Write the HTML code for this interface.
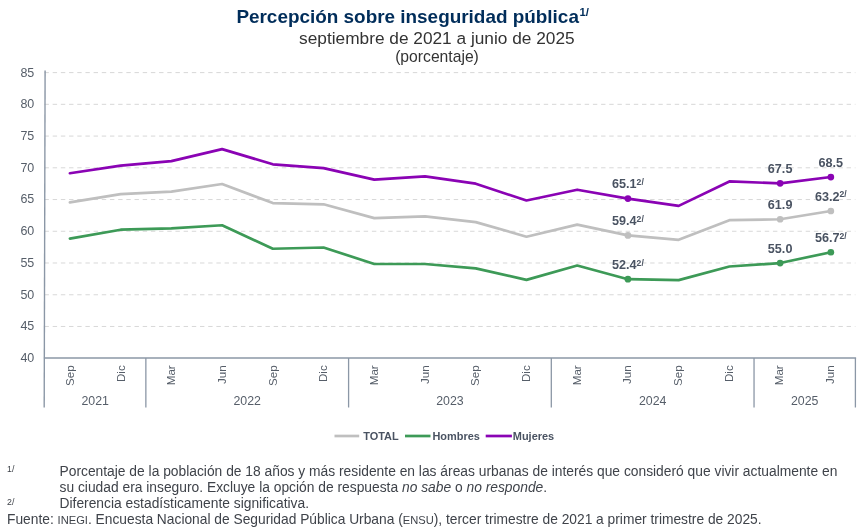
<!DOCTYPE html>
<html lang="es"><head><meta charset="utf-8"><title>Percepción sobre inseguridad pública</title>
<style>html,body{margin:0;padding:0;background:#fff}body{width:860px;height:531px;overflow:hidden;position:relative;font-family:"Liberation Sans", Arial, sans-serif}
svg{position:absolute;left:0;top:0;display:block}text{font-family:"Liberation Sans", Arial, sans-serif}
</style></head><body>
<svg width="860" height="531" viewBox="0 0 860 531">
<rect width="860" height="531" fill="#fff"/>
<text x="236.4" y="22.8" font-size="18.92" font-weight="bold" fill="#002d5a">Percepción sobre inseguridad pública<tspan font-size="11.3" dy="-6.9" dx="0.5">1/</tspan></text>
<text x="436.85" y="43.7" font-size="17.27" fill="#333" text-anchor="middle">septiembre de 2021 a junio de 2025</text>
<text x="437" y="61.6" font-size="15.7" fill="#333" text-anchor="middle">(porcentaje)</text>
<line x1="44.5" y1="72.60" x2="855.4" y2="72.60" stroke="#d6d6d6" stroke-width="0.95" stroke-dasharray="4.4 3.785"/>
<text transform="translate(34.3,76.55) scale(1.055,1)" font-size="11.85" fill="#565e69" text-anchor="end">85</text>
<line x1="44.5" y1="104.33" x2="855.4" y2="104.33" stroke="#d6d6d6" stroke-width="0.95" stroke-dasharray="4.4 3.785"/>
<text transform="translate(34.3,108.28) scale(1.055,1)" font-size="11.85" fill="#565e69" text-anchor="end">80</text>
<line x1="44.5" y1="136.07" x2="855.4" y2="136.07" stroke="#d6d6d6" stroke-width="0.95" stroke-dasharray="4.4 3.785"/>
<text transform="translate(34.3,140.02) scale(1.055,1)" font-size="11.85" fill="#565e69" text-anchor="end">75</text>
<line x1="44.5" y1="167.81" x2="855.4" y2="167.81" stroke="#d6d6d6" stroke-width="0.95" stroke-dasharray="4.4 3.785"/>
<text transform="translate(34.3,171.75) scale(1.055,1)" font-size="11.85" fill="#565e69" text-anchor="end">70</text>
<line x1="44.5" y1="199.54" x2="855.4" y2="199.54" stroke="#d6d6d6" stroke-width="0.95" stroke-dasharray="4.4 3.785"/>
<text transform="translate(34.3,203.49) scale(1.055,1)" font-size="11.85" fill="#565e69" text-anchor="end">65</text>
<line x1="44.5" y1="231.28" x2="855.4" y2="231.28" stroke="#d6d6d6" stroke-width="0.95" stroke-dasharray="4.4 3.785"/>
<text transform="translate(34.3,235.23) scale(1.055,1)" font-size="11.85" fill="#565e69" text-anchor="end">60</text>
<line x1="44.5" y1="263.01" x2="855.4" y2="263.01" stroke="#d6d6d6" stroke-width="0.95" stroke-dasharray="4.4 3.785"/>
<text transform="translate(34.3,266.96) scale(1.055,1)" font-size="11.85" fill="#565e69" text-anchor="end">55</text>
<line x1="44.5" y1="294.75" x2="855.4" y2="294.75" stroke="#d6d6d6" stroke-width="0.95" stroke-dasharray="4.4 3.785"/>
<text transform="translate(34.3,298.69) scale(1.055,1)" font-size="11.85" fill="#565e69" text-anchor="end">50</text>
<line x1="44.5" y1="326.48" x2="855.4" y2="326.48" stroke="#d6d6d6" stroke-width="0.95" stroke-dasharray="4.4 3.785"/>
<text transform="translate(34.3,330.43) scale(1.055,1)" font-size="11.85" fill="#565e69" text-anchor="end">45</text>
<text transform="translate(34.3,362.17) scale(1.055,1)" font-size="11.85" fill="#565e69" text-anchor="end">40</text>
<line x1="45.1" y1="70.5" x2="44.2" y2="407.5" stroke="#8b97a6" stroke-width="1.4"/>
<line x1="43.9" y1="358.00" x2="856.1" y2="358.00" stroke="#8b97a6" stroke-width="1.3"/>
<line x1="145.86" y1="358.00" x2="145.86" y2="407.5" stroke="#8b97a6" stroke-width="1.3"/>
<line x1="348.59" y1="358.00" x2="348.59" y2="407.5" stroke="#8b97a6" stroke-width="1.3"/>
<line x1="551.31" y1="358.00" x2="551.31" y2="407.5" stroke="#8b97a6" stroke-width="1.3"/>
<line x1="754.04" y1="358.00" x2="754.04" y2="407.5" stroke="#8b97a6" stroke-width="1.3"/>
<line x1="855.40" y1="358.00" x2="855.40" y2="407.5" stroke="#8b97a6" stroke-width="1.3"/>
<text transform="translate(73.94,365.3) rotate(-90)" font-size="11.6" fill="#565e69" text-anchor="end">Sep</text>
<text transform="translate(124.62,365.3) rotate(-90)" font-size="11.6" fill="#565e69" text-anchor="end">Dic</text>
<text transform="translate(175.30,365.3) rotate(-90)" font-size="11.6" fill="#565e69" text-anchor="end">Mar</text>
<text transform="translate(225.98,365.3) rotate(-90)" font-size="11.6" fill="#565e69" text-anchor="end">Jun</text>
<text transform="translate(276.67,365.3) rotate(-90)" font-size="11.6" fill="#565e69" text-anchor="end">Sep</text>
<text transform="translate(327.35,365.3) rotate(-90)" font-size="11.6" fill="#565e69" text-anchor="end">Dic</text>
<text transform="translate(378.03,365.3) rotate(-90)" font-size="11.6" fill="#565e69" text-anchor="end">Mar</text>
<text transform="translate(428.71,365.3) rotate(-90)" font-size="11.6" fill="#565e69" text-anchor="end">Jun</text>
<text transform="translate(479.39,365.3) rotate(-90)" font-size="11.6" fill="#565e69" text-anchor="end">Sep</text>
<text transform="translate(530.07,365.3) rotate(-90)" font-size="11.6" fill="#565e69" text-anchor="end">Dic</text>
<text transform="translate(580.75,365.3) rotate(-90)" font-size="11.6" fill="#565e69" text-anchor="end">Mar</text>
<text transform="translate(631.43,365.3) rotate(-90)" font-size="11.6" fill="#565e69" text-anchor="end">Jun</text>
<text transform="translate(682.12,365.3) rotate(-90)" font-size="11.6" fill="#565e69" text-anchor="end">Sep</text>
<text transform="translate(732.80,365.3) rotate(-90)" font-size="11.6" fill="#565e69" text-anchor="end">Dic</text>
<text transform="translate(783.48,365.3) rotate(-90)" font-size="11.6" fill="#565e69" text-anchor="end">Mar</text>
<text transform="translate(834.16,365.3) rotate(-90)" font-size="11.6" fill="#565e69" text-anchor="end">Jun</text>
<text transform="translate(95.18,405.1) scale(1.03,1)" font-size="12" fill="#565e69" text-anchor="middle">2021</text>
<text transform="translate(247.22,405.1) scale(1.03,1)" font-size="12" fill="#565e69" text-anchor="middle">2022</text>
<text transform="translate(449.95,405.1) scale(1.03,1)" font-size="12" fill="#565e69" text-anchor="middle">2023</text>
<text transform="translate(652.67,405.1) scale(1.03,1)" font-size="12" fill="#565e69" text-anchor="middle">2024</text>
<text transform="translate(804.72,405.1) scale(1.03,1)" font-size="12" fill="#565e69" text-anchor="middle">2025</text>
<polyline points="69.90,202.41 120.63,194.16 171.36,191.62 222.09,184.01 272.82,203.05 323.55,204.32 374.28,218.09 425.01,216.38 475.74,222.09 526.47,236.69 577.20,224.63 627.93,235.42 678.66,239.86 729.39,220.19 780.12,219.23 830.85,210.98" fill="none" stroke="#bfbfbf" stroke-width="2.7" stroke-linejoin="round" stroke-linecap="round"/>
<circle cx="627.93" cy="235.42" r="3.35" fill="#bfbfbf"/>
<circle cx="780.12" cy="219.23" r="3.35" fill="#bfbfbf"/>
<circle cx="830.85" cy="210.98" r="3.35" fill="#bfbfbf"/>
<polyline points="69.90,238.59 120.63,229.71 171.36,228.44 222.09,225.26 272.82,248.75 323.55,247.48 374.28,263.98 425.01,263.98 475.74,268.42 526.47,279.85 577.20,265.57 627.93,279.21 678.66,280.16 729.39,266.52 780.12,263.03 830.85,252.24" fill="none" stroke="#3d9a57" stroke-width="2.7" stroke-linejoin="round" stroke-linecap="round"/>
<circle cx="627.93" cy="279.21" r="3.35" fill="#3d9a57"/>
<circle cx="780.12" cy="263.03" r="3.35" fill="#3d9a57"/>
<circle cx="830.85" cy="252.24" r="3.35" fill="#3d9a57"/>
<polyline points="69.90,173.22 120.63,165.60 171.36,161.16 222.09,149.10 272.82,164.33 323.55,168.14 374.28,179.56 425.01,176.39 475.74,183.69 526.47,200.51 577.20,189.72 627.93,198.61 678.66,205.90 729.39,181.47 780.12,183.37 830.85,177.03" fill="none" stroke="#8a03b4" stroke-width="2.7" stroke-linejoin="round" stroke-linecap="round"/>
<circle cx="627.93" cy="198.61" r="3.35" fill="#8a03b4"/>
<circle cx="780.12" cy="183.37" r="3.35" fill="#8a03b4"/>
<circle cx="830.85" cy="177.03" r="3.35" fill="#8a03b4"/>
<text transform="translate(627.93,225.12) scale(1.04,1)" font-size="12.15" font-weight="bold" fill="#4a5362" text-anchor="middle">59.4<tspan font-size="8.3" dy="-3.3">2/</tspan></text>
<text transform="translate(780.12,208.93) scale(1.04,1)" font-size="12.15" font-weight="bold" fill="#4a5362" text-anchor="middle">61.9</text>
<text transform="translate(830.85,200.68) scale(1.04,1)" font-size="12.15" font-weight="bold" fill="#4a5362" text-anchor="middle">63.2<tspan font-size="8.3" dy="-3.3">2/</tspan></text>
<text transform="translate(627.93,268.91) scale(1.04,1)" font-size="12.15" font-weight="bold" fill="#4a5362" text-anchor="middle">52.4<tspan font-size="8.3" dy="-3.3">2/</tspan></text>
<text transform="translate(780.12,252.73) scale(1.04,1)" font-size="12.15" font-weight="bold" fill="#4a5362" text-anchor="middle">55.0</text>
<text transform="translate(830.85,241.94) scale(1.04,1)" font-size="12.15" font-weight="bold" fill="#4a5362" text-anchor="middle">56.7<tspan font-size="8.3" dy="-3.3">2/</tspan></text>
<text transform="translate(627.93,188.31) scale(1.04,1)" font-size="12.15" font-weight="bold" fill="#4a5362" text-anchor="middle">65.1<tspan font-size="8.3" dy="-3.3">2/</tspan></text>
<text transform="translate(780.12,173.07) scale(1.04,1)" font-size="12.15" font-weight="bold" fill="#4a5362" text-anchor="middle">67.5</text>
<text transform="translate(830.85,166.73) scale(1.04,1)" font-size="12.15" font-weight="bold" fill="#4a5362" text-anchor="middle">68.5</text>
<line x1="334.5" y1="436" x2="359.2" y2="436" stroke="#bfbfbf" stroke-width="2.7"/>
<text x="363.2" y="439.8" font-size="10.95" font-weight="bold" fill="#4a5362">TOTAL</text>
<line x1="405" y1="436" x2="430.5" y2="436" stroke="#3d9a57" stroke-width="2.7"/>
<text x="432.4" y="439.8" font-size="10.95" font-weight="bold" fill="#4a5362">Hombres</text>
<line x1="485.7" y1="436" x2="511.9" y2="436" stroke="#8a03b4" stroke-width="2.7"/>
<text x="512.8" y="439.8" font-size="10.95" font-weight="bold" fill="#4a5362">Mujeres</text>
<text x="7" y="472.3" font-size="8.8" fill="#3f434a">1/</text>
<text x="59.5" y="475.8" font-size="13.825" fill="#3f434a">Porcentaje de la población de 18 años y más residente en las áreas urbanas de interés que consideró que vivir actualmente en</text>
<text x="59.5" y="492.2" font-size="13.825" fill="#3f434a">su ciudad era inseguro. Excluye la opción de respuesta <tspan font-style="italic">no sabe</tspan> o <tspan font-style="italic">no responde</tspan>.</text>
<text x="7" y="504.9" font-size="8.8" fill="#3f434a">2/</text>
<text x="59.5" y="508.4" font-size="13.825" fill="#3f434a">Diferencia estadísticamente significativa.</text>
<text x="7" y="523.7" font-size="13.79" fill="#3f434a">Fuente: <tspan font-size="11.15">INEGI</tspan>. Encuesta Nacional de Seguridad Pública Urbana (<tspan font-size="11.15">ENSU</tspan>), tercer trimestre de 2021 a primer trimestre de 2025.</text>
</svg></body></html>
